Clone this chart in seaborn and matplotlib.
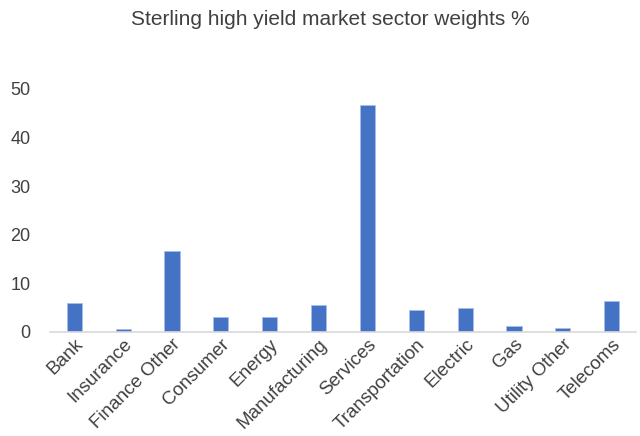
import matplotlib
matplotlib.use("Agg")
import matplotlib.pyplot as plt
import seaborn as sns
import pandas as pd

sectors = ["Bank", "Insurance", "Finance Other", "Consumer", "Energy", "Manufacturing",
           "Services", "Transportation", "Electric", "Gas", "Utility Other", "Telecoms"]
weights = [5.9, 0.5, 16.7, 3.1, 3.0, 5.6, 46.6, 4.5, 5.0, 1.1, 0.8, 6.4]
y_ticks = [0, 10, 20, 30, 40, 50]
title = "Sterling high yield market sector weights %"

sns.set_style("white")
plt.rcParams["font.family"] = ["Liberation Sans", "DejaVu Sans"]

df = pd.DataFrame({"sector": sectors, "weight": weights})

fig = plt.figure(figsize=(6.4, 4.36), dpi=100)
ax = fig.add_axes([0.078, 0.239, 0.916, 0.557])
sns.barplot(data=df, x="sector", y="weight", color="#4472C4", width=0.31,
            saturation=1, edgecolor="#A9BFE6", linewidth=0.6, ax=ax)

ax.set_ylim(0, 50)
ax.set_yticks(y_ticks)
ax.set_xlim(-0.5, len(sectors) - 0.5)
ax.set_xlabel("")
ax.set_ylabel("")
for s in ["top", "right", "left"]:
    ax.spines[s].set_visible(False)
ax.spines["bottom"].set_color("#D9D9D9")
ax.spines["bottom"].set_linewidth(1.2)
ax.tick_params(axis="y", length=0, labelsize=13, colors="#404040", pad=14)
ax.tick_params(axis="x", length=0, labelsize=13.5, colors="#404040", pad=3)
plt.setp(ax.get_xticklabels(), rotation=45, ha="right", rotation_mode="anchor")

fig.text(0.516, 0.955, title, ha="center", va="center", fontsize=15, color="#404040")

fig.savefig("out.png", dpi=100)
